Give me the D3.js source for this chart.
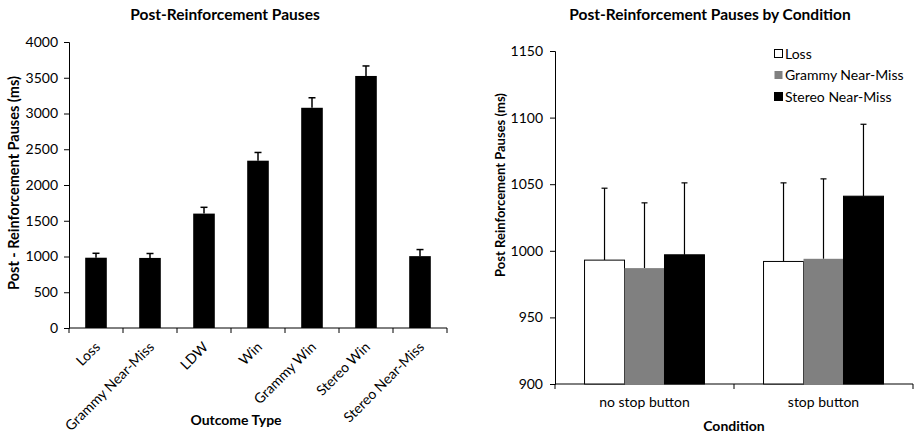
<!DOCTYPE html>
<html>
<head>
<meta charset="utf-8">
<script src="https://cdn.jsdelivr.net/npm/d3@7"></script>
<style>
  body { margin: 0; background: #fff; }
  svg text { font-family: Lato, "Open Sans", sans-serif; fill: #000; }
</style>
</head>
<body>
<svg id="chart" width="914" height="435"></svg>
<script>
// left chart data
var outcomes = ["Loss", "Grammy Near-Miss", "LDW", "Win", "Grammy Win", "Stereo Win", "Stereo Near-Miss"];
var pauseMeans = [983, 980, 1600, 2340, 3080, 3525, 1005];
var pauseErrors = [62, 62, 88, 115, 140, 140, 92];
var leftTicks = [0, 500, 1000, 1500, 2000, 2500, 3000, 3500, 4000];

// right chart data
var conditions = ["no stop button", "stop button"];
var trialTypes = ["Loss", "Grammy Near-Miss", "Stereo Near-Miss"];
var lossMeans = [993, 992];
var grammyMeans = [987, 994];
var stereoMeans = [997, 1041];
var lossErrors = [54, 59];
var grammyErrors = [49, 60];
var stereoErrors = [54, 54];
var rightTicks = [900, 950, 1000, 1050, 1100, 1150];
var trialColors = ["#ffffff", "#808080", "#000000"];

var svg = d3.select("#chart");

// ---------- left chart ----------
var left = svg.append("g");

var x1 = d3.scaleBand().domain(outcomes).range([69, 447]);
var y1 = d3.scaleLinear().domain([0, 4000]).range([328, 42]);

left.append("text")
    .attr("x", 225).attr("y", 20)
    .attr("text-anchor", "middle")
    .style("font-size", "15.5px").style("font-weight", "bold")
    .text("Post-Reinforcement Pauses");

var yAxis1 = left.append("g")
    .attr("transform", "translate(69,0)")
    .call(d3.axisLeft(y1).tickValues(leftTicks).tickFormat(d3.format("d")).tickSize(5).tickPadding(6));
yAxis1.selectAll("text").style("font-size", "14px");

var xAxis1 = left.append("g")
    .attr("transform", "translate(0,328)")
    .call(d3.axisBottom(x1).tickSize(0).tickFormat(""));
xAxis1.select(".domain").attr("d", "M69,0H447");

// tick marks at band edges
left.selectAll(".edge")
    .data(outcomes.concat(["end"]))
    .enter().append("line")
    .attr("x1", function (d, i) { return i < outcomes.length ? x1(d) : x1.range()[1]; })
    .attr("x2", function (d, i) { return i < outcomes.length ? x1(d) : x1.range()[1]; })
    .attr("y1", 328).attr("y2", 333)
    .attr("stroke", "#000");

left.selectAll(".xlab")
    .data(outcomes)
    .enter().append("text")
    .attr("transform", function (d) {
      return "translate(" + (x1(d) + x1.bandwidth() / 2 - 2) + ",341) rotate(-45)";
    })
    .attr("text-anchor", "end")
    .attr("dy", "0.7em")
    .style("font-size", "14px")
    .text(function (d) { return d; });

left.append("text")
    .attr("x", 236).attr("y", 425)
    .attr("text-anchor", "middle")
    .style("font-size", "14px").style("font-weight", "bold")
    .text("Outcome Type");

left.append("text")
    .attr("transform", "translate(19,183) rotate(-90)")
    .attr("text-anchor", "middle")
    .style("font-size", "14.5px").style("font-weight", "bold")
    .text("Post - Reinforcement Pauses (ms)");

var barW1 = x1.bandwidth() * 0.4;

left.selectAll(".errl")
    .data(outcomes)
    .enter().append("line")
    .attr("x1", function (d) { return x1(d) + x1.bandwidth() / 2; })
    .attr("x2", function (d) { return x1(d) + x1.bandwidth() / 2; })
    .attr("y1", function (d, i) { return y1(pauseMeans[i]); })
    .attr("y2", function (d, i) { return y1(pauseMeans[i] + pauseErrors[i]); })
    .attr("stroke", "#000").attr("stroke-width", 1.5);

left.selectAll(".errc")
    .data(outcomes)
    .enter().append("line")
    .attr("x1", function (d) { return x1(d) + x1.bandwidth() / 2 - 3.5; })
    .attr("x2", function (d) { return x1(d) + x1.bandwidth() / 2 + 3.5; })
    .attr("y1", function (d, i) { return y1(pauseMeans[i] + pauseErrors[i]); })
    .attr("y2", function (d, i) { return y1(pauseMeans[i] + pauseErrors[i]); })
    .attr("stroke", "#000").attr("stroke-width", 1.5);

left.selectAll(".bar")
    .data(outcomes)
    .enter().append("rect")
    .attr("x", function (d) { return x1(d) + (x1.bandwidth() - barW1) / 2; })
    .attr("y", function (d, i) { return y1(pauseMeans[i]); })
    .attr("width", barW1)
    .attr("height", function (d, i) { return y1(0) - y1(pauseMeans[i]); })
    .attr("fill", "#000");

// ---------- right chart ----------
var right = svg.append("g");

var x2 = d3.scaleBand().domain(conditions).range([555, 913]);
var xs = d3.scaleBand().domain(trialTypes).range([0, x2.bandwidth() * 0.67]);
var y2 = d3.scaleLinear().domain([900, 1150]).range([384, 51]);

var means = [lossMeans, grammyMeans, stereoMeans];
var errors = [lossErrors, grammyErrors, stereoErrors];

right.append("text")
    .attr("x", 710).attr("y", 20)
    .attr("text-anchor", "middle")
    .style("font-size", "15.5px").style("font-weight", "bold")
    .text("Post-Reinforcement Pauses by Condition");

var yAxis2 = right.append("g")
    .attr("transform", "translate(555,0)")
    .call(d3.axisLeft(y2).tickValues(rightTicks).tickFormat(d3.format("d")).tickSize(5).tickPadding(7));
yAxis2.selectAll("text").style("font-size", "14px");

var xAxis2 = right.append("g")
    .attr("transform", "translate(0,384)")
    .call(d3.axisBottom(x2).tickSize(0).tickPadding(13));
xAxis2.selectAll("text").style("font-size", "14px");
xAxis2.select(".domain").attr("d", "M555,0H913");

right.selectAll(".edge")
    .data(conditions.concat(["end"]))
    .enter().append("line")
    .attr("x1", function (d, i) { return i < conditions.length ? x2(d) : x2.range()[1]; })
    .attr("x2", function (d, i) { return i < conditions.length ? x2(d) : x2.range()[1]; })
    .attr("y1", 384).attr("y2", 389)
    .attr("stroke", "#000");

right.append("text")
    .attr("x", 734).attr("y", 431)
    .attr("text-anchor", "middle")
    .style("font-size", "14px").style("font-weight", "bold")
    .text("Condition");

right.append("text")
    .attr("transform", "translate(505,185) rotate(-90)")
    .attr("text-anchor", "middle")
    .style("font-size", "13px").style("font-weight", "bold")
    .text("Post Reinforcement Pauses (ms)");

var groups = right.selectAll(".grp")
    .data(conditions)
    .enter().append("g")
    .attr("transform", function (d) {
      return "translate(" + (x2(d) + x2.bandwidth() * 0.165) + ",0)";
    });

trialTypes.forEach(function (t, k) {
  groups.append("line")
      .attr("x1", xs(t) + xs.bandwidth() / 2)
      .attr("x2", xs(t) + xs.bandwidth() / 2)
      .attr("y1", function (d, i) { return y2(means[k][i]); })
      .attr("y2", function (d, i) { return y2(means[k][i] + errors[k][i]); })
      .attr("stroke", "#000").attr("stroke-width", 1.2);
  groups.append("line")
      .attr("x1", xs(t) + xs.bandwidth() / 2 - 3)
      .attr("x2", xs(t) + xs.bandwidth() / 2 + 3)
      .attr("y1", function (d, i) { return y2(means[k][i] + errors[k][i]); })
      .attr("y2", function (d, i) { return y2(means[k][i] + errors[k][i]); })
      .attr("stroke", "#000").attr("stroke-width", 1.2);
  groups.append("rect")
      .attr("x", xs(t))
      .attr("y", function (d, i) { return y2(means[k][i]); })
      .attr("width", xs.bandwidth())
      .attr("height", function (d, i) { return y2(900) - y2(means[k][i]); })
      .attr("fill", trialColors[k])
      .attr("stroke", k === 1 ? "none" : "#000")
      .attr("stroke-width", 1);
});

var legend = right.selectAll(".legend")
    .data(trialTypes)
    .enter().append("g")
    .attr("transform", function (d, i) { return "translate(774," + (54 + i * 21.5) + ")"; });

legend.append("rect")
    .attr("x", 0.5).attr("y", -4.5)
    .attr("width", 8).attr("height", 8)
    .attr("fill", function (d, i) { return trialColors[i]; })
    .attr("stroke", function (d, i) { return i === 1 ? "none" : "#000"; });

legend.append("text")
    .attr("x", 11).attr("y", 0)
    .attr("dy", "0.35em")
    .style("font-size", "14px")
    .text(function (d) { return d; });
</script>
</body>
</html>
